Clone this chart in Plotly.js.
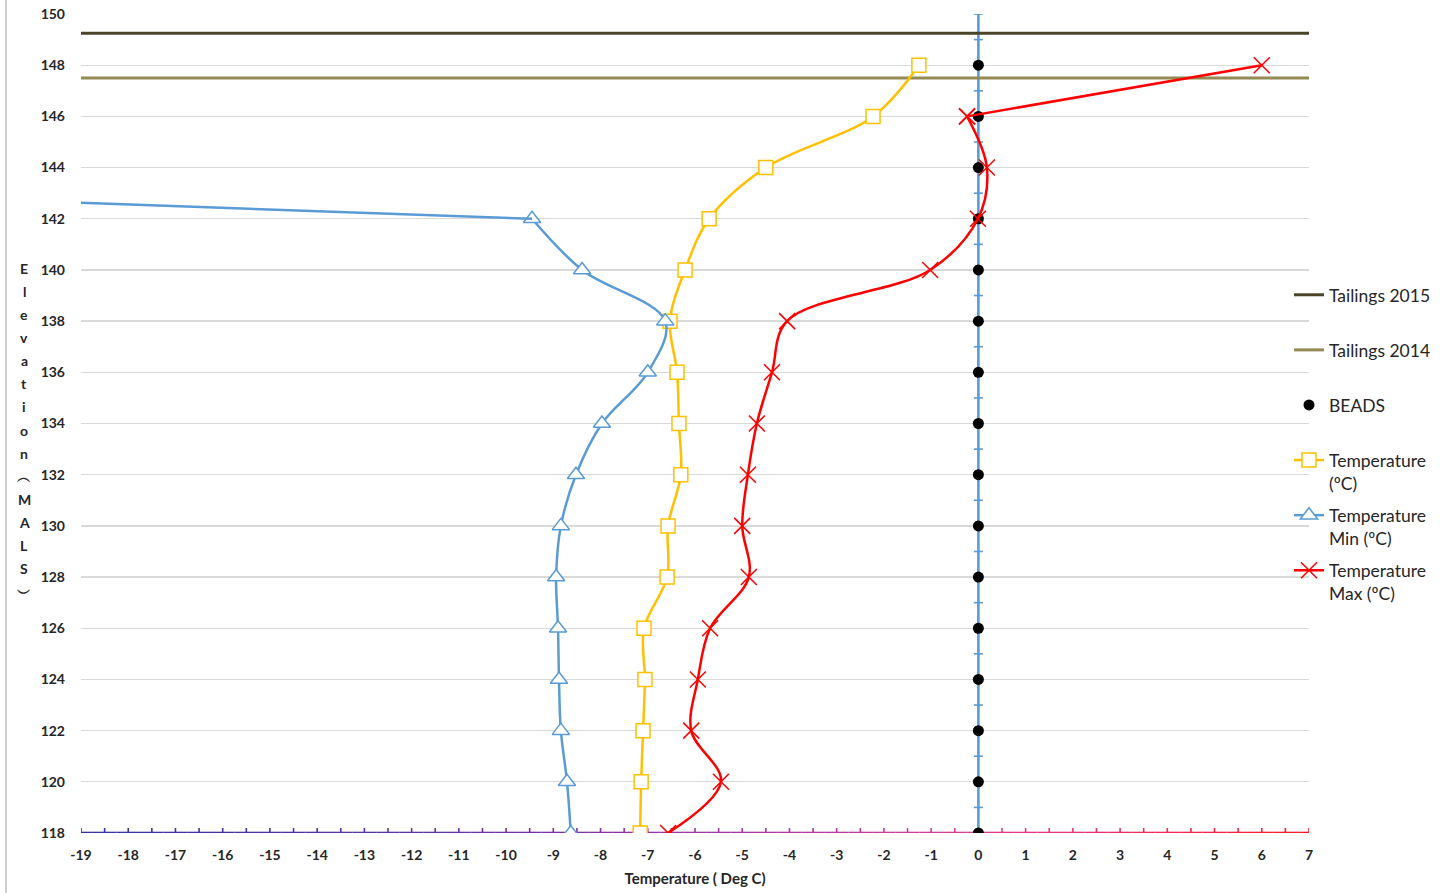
<!DOCTYPE html>
<html>
<head>
<meta charset="utf-8">
<script src="https://cdn.plot.ly/plotly-3.0.1.min.js"></script>
<style>
html,body{margin:0;padding:0;background:#fff;}
#chart{width:1440px;height:893px;}
</style>
</head>
<body>
<div id="chart"></div>
<script>
// ---- data ----
const elevations = [118,120,122,124,126,128,130,132,134,136,138,140,142,144,146,148];
const tempAvg = [-7.16,-7.14,-7.10,-7.06,-7.08,-6.59,-6.57,-6.30,-6.34,-6.38,-6.53,-6.21,-5.70,-4.50,-2.23,-1.26];
const minElev = [118,120,122,124,126,128,130,132,134,136,138,140,142,144];
const tempMin = [-8.63,-8.71,-8.84,-8.88,-8.90,-8.94,-8.84,-8.52,-7.97,-7.00,-6.63,-8.39,-9.45,-40];
const tempMax = [-6.57,-5.45,-6.08,-5.94,-5.68,-4.86,-5.00,-4.88,-4.69,-4.37,-4.05,-1.02,-0.01,0.18,-0.24,6.0];
const beadsX = [0,0,0,0,0,0,0,0,0,0,0,0,0,0,0,0];
const tailingsX = [-19, 7];
const tailings2015 = [149.25, 149.25];
const tailings2014 = [147.5, 147.5];
const xTickVals = [-19,-18,-17,-16,-15,-14,-13,-12,-11,-10,-9,-8,-7,-6,-5,-4,-3,-2,-1,0,1,2,3,4,5,6,7];
const yTickVals = [118,120,122,124,126,128,130,132,134,136,138,140,142,144,146,148,150];
const yTitleChars = ['E','l','e','v','a','t','i','o','n','︵','M','A','L','S','︶'];

const FONT = 'Lato, Carlito, Calibri, "Open Sans", sans-serif';
const XMIN = -19, XMAX = 7, YMIN = 118, YMAX = 150;

const BLUE = '#5B9BD5', RED = '#FF0000', YEL = '#FFC000';
const nMin = tempMin.length, nMax = tempMax.length;

const minMarker = {symbol:'triangle-up', size:15, color:'#ffffff', line:{color:BLUE, width:1.5}};
const maxMarker = {symbol:'x-thin-open', size:16, color:RED, line:{color:RED, width:1.5}};

const traces = [
  {x: tailingsX, y: tailings2015, mode:'lines', name:'Tailings 2015<br> ', legendgroup:'a',
   line:{color:'#4A452A', width:3}},
  {x: tailingsX, y: tailings2014, mode:'lines', name:'Tailings 2014<br> ', legendgroup:'b',
   line:{color:'#948A54', width:3}},
  {x: beadsX, y: elevations, mode:'markers', name:'BEADS<br> ', legendgroup:'c',
   marker:{symbol:'circle', size:11, color:'#000000'}},
  {x: tempAvg, y: elevations, mode:'lines+markers', name:'Temperature<br>(ºC)', legendgroup:'d',
   line:{color:YEL, width:2.5, shape:'spline', smoothing:1},
   marker:{symbol:'square', size:14, color:'#ffffff', line:{color:YEL, width:1.5}}},
  // Min: smoothed part plus the final (off-scale) segment
  {x: tempMin.slice(0, nMin-1), y: minElev.slice(0, nMin-1), mode:'lines+markers', name:'Temperature<br>Min (ºC)', legendgroup:'e',
   line:{color:BLUE, width:2.5, shape:'spline', smoothing:1}, marker:minMarker},
  {x: tempMin.slice(nMin-2), y: minElev.slice(nMin-2), mode:'lines', showlegend:false, legendgroup:'e',
   line:{color:BLUE, width:2.5}},
  // Max: smoothed part plus the final segment up to 148
  {x: tempMax.slice(0, nMax-1), y: elevations.slice(0, nMax-1), mode:'lines+markers', name:'Temperature<br>Max (ºC)', legendgroup:'f',
   line:{color:RED, width:2.5, shape:'spline', smoothing:1}, marker:maxMarker},
  {x: tempMax.slice(nMax-2), y: elevations.slice(nMax-2), mode:'lines+markers', showlegend:false, legendgroup:'f',
   line:{color:RED, width:2.5}, marker:maxMarker}
];

// ---- decorative axis shapes ----
const shapes = [];
shapes.push({type:'line', xref:'paper', yref:'paper', x0:-0.0611, x1:-0.0611, y0:-0.08, y1:1.02,
  line:{color:'#bfbfbf', width:1.5}, layer:'below'});

const stops = [[0,[50,50,170]],[0.35,[112,48,170]],[0.73,[225,60,150]],[1,[255,25,35]]];
function gcol(t){
  for(let i=0;i<stops.length-1;i++){
    const a=stops[i], b=stops[i+1];
    if(t<=b[0]){
      const f=(t-a[0])/(b[0]-a[0]);
      const c=a[1].map((v,k)=>Math.round(v+(b[1][k]-v)*f));
      return 'rgb('+c.join(',')+')';
    }
  }
  return 'rgb(255,25,35)';
}
const nSeg = (XMAX-XMIN)*4;
for(let i=0;i<nSeg;i++){
  const x0 = XMIN + i*(XMAX-XMIN)/nSeg, x1 = XMIN + (i+1)*(XMAX-XMIN)/nSeg;
  shapes.push({type:'line', xref:'x', yref:'y', x0:x0, x1:x1, y0:YMIN, y1:YMIN,
    line:{color:gcol(((x0+x1)/2 - XMIN)/(XMAX-XMIN)), width:2.6}, layer:'between'});
}
for(let i=0;i<=(XMAX-XMIN)*2;i++){
  const xv = XMIN + i*0.5;
  shapes.push({type:'line', xref:'x', yref:'y', ysizemode:'pixel', yanchor:YMIN, x0:xv, x1:xv, y0:-5, y1:5,
    line:{color:gcol((xv-XMIN)/(XMAX-XMIN)), width:1.6}, layer:'between'});
}
shapes.push({type:'line', xref:'x', yref:'y', x0:0, x1:0, y0:YMIN, y1:YMAX,
  line:{color:BLUE, width:2.6}, layer:'between'});
for(let yv=YMIN; yv<=YMAX; yv++){
  shapes.push({type:'line', xref:'x', yref:'y', xsizemode:'pixel', xanchor:0, x0:-4.5, x1:4.5, y0:yv, y1:yv,
    line:{color:BLUE, width:1.6}, layer:'between'});
}

const annotations = [];
const PLOT_H = 819, PLOT_BOTTOM = 833, titleTop = 268, titleStep = 23.15;
yTitleChars.forEach((ch, i) => {
  const py = titleTop + i*titleStep;
  annotations.push({xref:'paper', yref:'paper', x:-0.0464, y:(PLOT_BOTTOM - py)/PLOT_H,
    xanchor:'center', yanchor:'middle', text:ch, showarrow:false,
    font:{family:FONT, size:14, color:'#262626', weight:'bold'}});
});

const layout = {
  width:1440, height:893,
  margin:{l:81, r:131, t:14, b:60, pad:0, autoexpand:false},
  paper_bgcolor:'#ffffff', plot_bgcolor:'#ffffff',
  showlegend:true,
  legend:{x:0.9837, xanchor:'left', y:0.679, yanchor:'top', valign:'top', traceorder:'grouped',
    font:{family:FONT, size:17.5, color:'#262626'}, tracegroupgap:6.6, itemwidth:30,
    bgcolor:'rgba(0,0,0,0)'},
  xaxis:{range:[XMIN, XMAX], tickvals:xTickVals, ticktext:xTickVals.map(String),
    showgrid:false, zeroline:false, showline:false, ticks:'',
    ticklabelstandoff:12, automargin:false,
    tickfont:{family:FONT, size:14, color:'#262626', weight:'bold'},
    title:{text:'Temperature ( Deg C)', font:{family:FONT, size:15, color:'#262626', weight:'bold'}, standoff:11},
    fixedrange:true},
  yaxis:{range:[YMIN, YMAX], tickvals:yTickVals, ticktext:yTickVals.map(String),
    showgrid:true, gridcolor:'#d9d9d9', gridwidth:1.3, zeroline:false, showline:false, ticks:'',
    ticklabelstandoff:15, automargin:false,
    tickfont:{family:FONT, size:14, color:'#262626', weight:'bold'},
    fixedrange:true},
  shapes:shapes,
  annotations:annotations
};

Plotly.newPlot('chart', traces, layout, {displayModeBar:false, staticPlot:true});
</script>
</body>
</html>
